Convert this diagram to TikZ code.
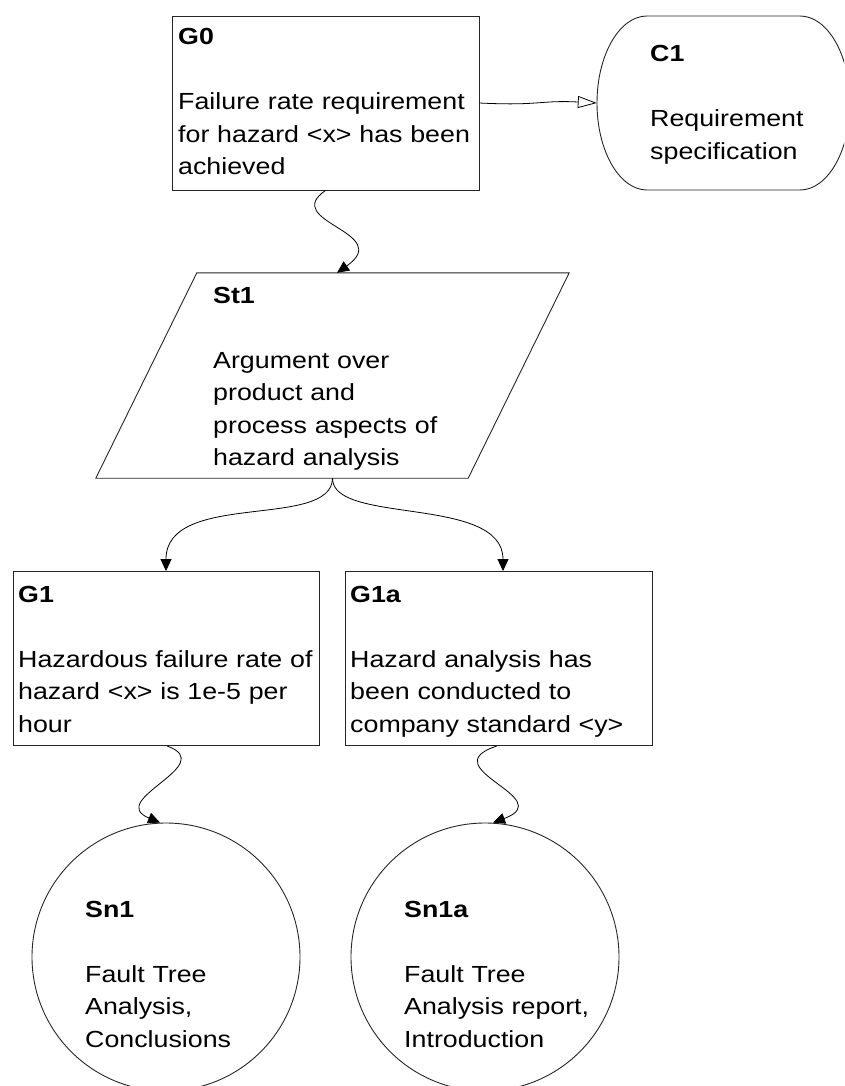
\documentclass[tikz,border=0pt]{standalone}
\usepackage{fontspec}
\setmainfont{Liberation Sans}[FakeStretch=1.15]
\usetikzlibrary{arrows.meta,calc}
\begin{document}
\begin{tikzpicture}[x=1pt,y=-1pt,
  shp/.style={draw=black!85, line width=0.9pt, inner sep=0pt},
  boxnode/.style={shp, rectangle, minimum height=174pt},
  solnode/.style={shp, circle, minimum size=268pt},
  ghost/.style={draw=none, rectangle, inner sep=0pt},
  txt/.style={anchor=base west, inner sep=0pt, text width=420pt, align=left, font=\fontsize{23.3pt}{32.5pt}\selectfont},
  conn/.style={line width=0.8pt, -{Triangle[length=12pt,width=11pt]}},
  ctx/.style={line width=0.8pt, -{Triangle[open,length=19pt,width=12pt]}},
]
\useasboundingbox (0,0) rectangle (844,1086);
\clip (0,0) rectangle (844,1086);

% goals
\node[boxnode, minimum width=307pt] (g0) at (325.5,103) {};
\node[boxnode, minimum width=306pt] (g1) at (166,658.5) {};
\node[boxnode, minimum width=307pt] (g1a) at (498.5,658.5) {};

% context
\node[ghost, minimum width=253pt, minimum height=174pt] (c1) at (723.5,103) {};
\draw[shp] (647,16) -- (800,16) .. controls (827.6,16) and (850,55) .. (850,103)
  .. controls (850,151) and (827.6,190) .. (800,190) -- (647,190)
  .. controls (619.4,190) and (597,151) .. (597,103)
  .. controls (597,55) and (619.4,16) .. (647,16) -- cycle;

% strategy
\node[ghost, minimum width=473pt, minimum height=205pt] (st1) at (332.5,375.5) {};
\draw[shp] ($(st1.north west)+(101,0)$) -- (st1.north east) -- ($(st1.south east)-(101,0)$) -- (st1.south west) -- cycle;

% solutions
\node[solnode] (sn1) at (166,957) {};
\node[solnode] (sn1a) at (485,957) {};

% texts
\node[txt] (g0t) at (178,45) {\textbf{G0}\\[32.5pt]Failure rate requirement\\for hazard <x> has been\\achieved};
\node[txt] (c1t) at (650,62) {\textbf{C1}\\[32.5pt]Requirement\\specification};
\node[txt] (st1t) at (213,303) {\textbf{St1}\\[32.5pt]Argument over\\product and\\process aspects of\\hazard analysis};
\node[txt] (g1t) at (18,602) {\textbf{G1}\\[32.5pt]Hazardous failure rate of\\hazard <x> is 1e-5 per\\hour};
\node[txt] (g1at) at (350,602) {\textbf{G1a}\\[32.5pt]Hazard analysis has\\been conducted to\\company standard <y>};
\node[txt] (sn1t) at (85,917) {\textbf{Sn1}\\[32.5pt]Fault Tree\\Analysis,\\Conclusions};
\node[txt] (sn1at) at (404,917) {\textbf{Sn1a}\\[32.5pt]Fault Tree\\Analysis report,\\Introduction};

% connectors
\draw[ctx] (g0.east) .. controls (540,106) and (540,100) .. (c1.west);
\draw[conn] (g0.south) .. controls (280,222) and (395,232) .. ([xshift=4.5pt]st1.north);
\draw[conn] (st1.south) .. controls (332,530) and (166,490) .. (g1.north);
\draw[conn] (st1.south) .. controls (332,525) and (503,495) .. ([xshift=4.5pt]g1a.north);
\draw[conn] ([xshift=1pt]g1.south) .. controls (220,765) and (105,800) .. ([xshift=-6pt]sn1.north);
\draw[conn] ([xshift=-1.5pt]g1a.south) .. controls (430,768) and (560,798) .. ([xshift=8pt]sn1a.north);
\end{tikzpicture}
\end{document}
